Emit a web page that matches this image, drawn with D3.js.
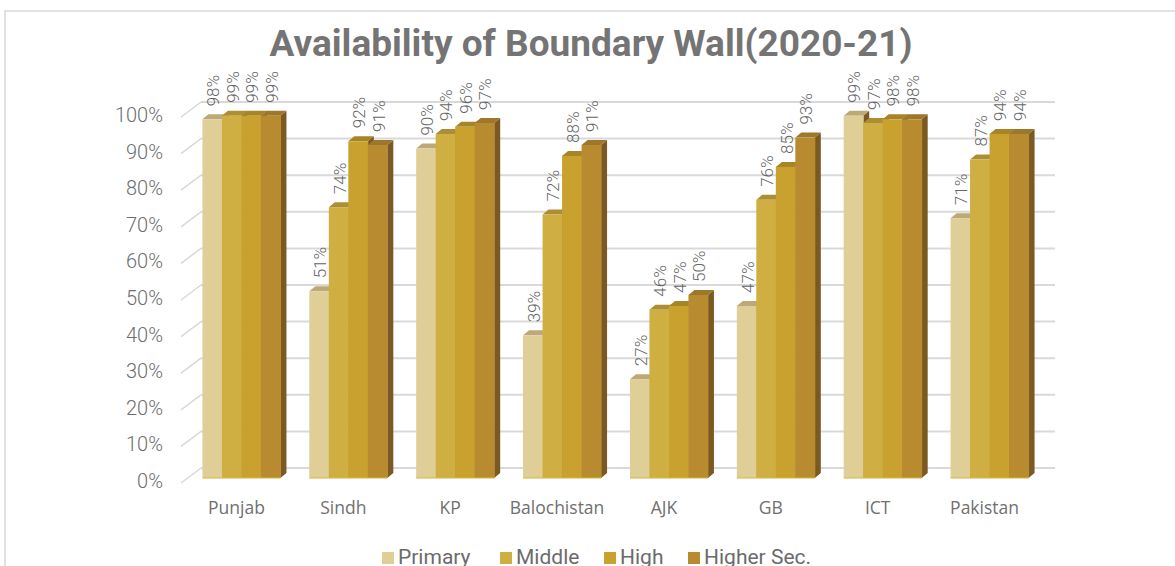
<!DOCTYPE html>
<html>
<head>
<meta charset="utf-8">
<script src="https://cdn.jsdelivr.net/npm/d3@7"></script>
<style>
  html, body { margin: 0; padding: 0; background: #fff; }
  svg { display: block; }
</style>
</head>
<body>
<svg id="chart" width="1175" height="566"></svg>
<script>
// ---- data ----
const categories = ["Punjab", "Sindh", "KP", "Balochistan", "AJK", "GB", "ICT", "Pakistan"];
const series = ["Primary", "Middle", "High", "Higher Sec."];
const primary   = [98, 51, 90, 39, 27, 47, 99, 71];
const middle    = [99, 74, 94, 72, 46, 76, 97, 87];
const high      = [99, 92, 96, 88, 47, 85, 98, 94];
const higherSec = [99, 91, 97, 91, 50, 93, 98, 94];
const yTicks = [0, 10, 20, 30, 40, 50, 60, 70, 80, 90, 100];
const titleText = "Availability of Boundary Wall(2020-21)";

const seriesValues = [primary, middle, high, higherSec];
const frontColors = ["#E0CE97", "#D0AF42", "#C9A12E", "#B98B30"];
const topColors   = ["#BCA977", "#AD8E33", "#A78527", "#9D772A"];
const sideColors  = ["#A89462", "#8E7428", "#866A20", "#7A5A22"];

const svg = d3.select("#chart");

// border
svg.append("path")
  .attr("d", "M5,566 L5,11 L1175,11")
  .attr("fill", "none").attr("stroke", "#d9d9d9").attr("stroke-width", 1.5);

// scales
const x = d3.scaleBand().domain(categories).range([182, 1037]);
const groupW = 78;
const inner = d3.scaleBand().domain(series).range([0, groupW]);
const y = d3.scaleLinear().domain([0, 100]).range([483, 117]);

const wallDx = 19, wallDy = -15;   // back wall offset
const barDx = 6, barDy = -5;       // bar position in depth
const depthDx = 6, depthDy = -5;   // bar depth

// gridlines (back wall + left side wall)
const grid = svg.append("g");
yTicks.forEach(t => {
  const yf = y(t);
  grid.append("line")
    .attr("x1", x.range()[0] - 1).attr("y1", yf)
    .attr("x2", x.range()[0] + wallDx).attr("y2", yf + wallDy)
    .attr("stroke", "#d9d9d9").attr("stroke-width", 1.5);
  grid.append("line")
    .attr("x1", x.range()[0] + wallDx).attr("y1", yf + wallDy)
    .attr("x2", x.range()[1] + wallDx - 1).attr("y2", yf + wallDy)
    .attr("stroke", "#d9d9d9").attr("stroke-width", 2);
});

// y labels
svg.append("g").selectAll("text").data(yTicks).join("text")
  .attr("x", 163).attr("y", d => y(d) - 2)
  .attr("text-anchor", "end").attr("dominant-baseline", "central")
  .attr("font-family", "Roboto, sans-serif").attr("font-weight", 300).attr("font-size", 20)
  .attr("fill", "#6e6e6e")
  .text(d => d + "%");

// bars
const bars = svg.append("g");
const labels = svg.append("g");
categories.forEach((c, ci) => {
  const gx = x(c) + (x.bandwidth() - groupW) / 2 + barDx;
  series.forEach((s, si) => {
    const v = seriesValues[si][ci];
    const x0 = gx + inner(s);
    const w = inner.bandwidth();
    const yb = y(0) + barDy;
    const yt = y(v) + barDy;
    // side face
    bars.append("path")
      .attr("d", `M${x0 + w},${yt} L${x0 + w + depthDx},${yt + depthDy} L${x0 + w + depthDx},${yb + depthDy} L${x0 + w},${yb} Z`)
      .attr("fill", sideColors[3]);
    // top face
    bars.append("path")
      .attr("d", `M${x0},${yt} L${x0 + depthDx},${yt + depthDy} L${x0 + w + depthDx},${yt + depthDy} L${x0 + w},${yt} Z`)
      .attr("fill", topColors[si]);
    // front face
    bars.append("rect")
      .attr("x", x0).attr("y", yt).attr("width", w + 0.5).attr("height", yb - yt)
      .attr("fill", frontColors[si]);
    // value label
    const lx = x0 + w / 2 + 1, ly = yt + depthDy - 8;
    labels.append("text")
      .attr("transform", `translate(${lx},${ly}) rotate(-90)`)
      .attr("text-anchor", "start").attr("dominant-baseline", "central")
      .attr("font-family", "Roboto, sans-serif").attr("font-weight", 300).attr("font-size", 17)
      .attr("fill", "#666")
      .text(v + "%");
  });
  // bottom edge line
  bars.append("line")
    .attr("x1", gx).attr("x2", gx + groupW)
    .attr("y1", y(0) + barDy).attr("y2", y(0) + barDy)
    .attr("stroke", "#D9B43A").attr("stroke-width", 1);
});

// category labels
svg.append("g").selectAll("text").data(categories).join("text")
  .attr("x", d => x(d) + x.bandwidth() / 2 + 1)
  .attr("y", 514)
  .attr("text-anchor", "middle")
  .attr("font-family", "'Open Sans', sans-serif").attr("font-size", 17.5)
  .attr("fill", "#707070")
  .text(d => d);

// title
svg.append("text")
  .attr("x", 591).attr("y", 56)
  .attr("text-anchor", "middle")
  .attr("font-family", "Roboto, sans-serif").attr("font-weight", "bold")
  .attr("font-size", 37).attr("fill", "#747474")
  .text(titleText);

// legend
const legendX = [382, 500, 604, 688];
const lg = svg.append("g");
series.forEach((s, i) => {
  lg.append("rect").attr("x", legendX[i]).attr("y", 552).attr("width", 12).attr("height", 12)
    .attr("fill", frontColors[i]);
  lg.append("text").attr("x", legendX[i] + 16).attr("y", 564)
    .attr("font-family", "Roboto, sans-serif").attr("font-size", 21)
    .attr("fill", "#6b6b6b").text(s);
});
</script>
</body>
</html>
